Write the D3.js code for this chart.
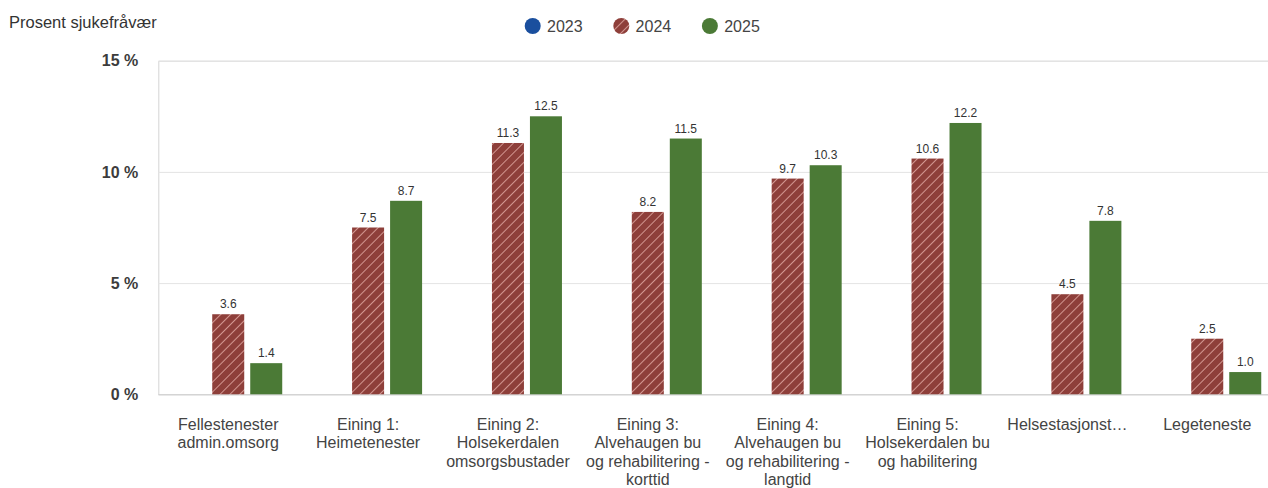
<!DOCTYPE html>
<html><head><meta charset="utf-8">
<script src="https://cdn.jsdelivr.net/npm/d3@7"></script>
<style>
html,body{margin:0;padding:0;background:#fff;}
svg{display:block;font-family:"Liberation Sans",Arial,sans-serif;}
</style></head>
<body>
<svg id="chart" width="1268" height="488"></svg>
<script>
const categories = [
  "Fellestenester\nadmin.omsorg",
  "Eining 1:\nHeimetenester",
  "Eining 2:\nHolsekerdalen\nomsorgsbustader",
  "Eining 3:\nAlvehaugen bu\nog rehabilitering -\nkorttid",
  "Eining 4:\nAlvehaugen bu\nog rehabilitering -\nlangtid",
  "Eining 5:\nHolsekerdalen bu\nog habilitering",
  "Helsestasjonst…",
  "Legeteneste"
];
const years = ["2023", "2024", "2025"];
const values2023 = [null, null, null, null, null, null, null, null];
const values2024 = [3.6, 7.5, 11.3, 8.2, 9.7, 10.6, 4.5, 2.5];
const values2025 = [1.4, 8.7, 12.5, 11.5, 10.3, 12.2, 7.8, 1.0];
const yTicks = [0, 5, 10, 15];
const yTickLabels = ["0 %", "5 %", "10 %", "15 %"];
const yTitle = "Prosent sjukefråvær";

const seriesValues = {"2023": values2023, "2024": values2024, "2025": values2025};
const colors = {"2023": "#1a4f9e", "2024": "#8e3f3a", "2025": "#4b7a36"};

const svg = d3.select("#chart");
const defs = svg.append("defs");
const pat = defs.append("pattern").attr("id", "hatch").attr("patternUnits", "userSpaceOnUse")
  .attr("width", 7).attr("height", 7).attr("patternTransform", "rotate(45)");
pat.append("rect").attr("width", 7).attr("height", 7).attr("fill", colors["2024"]);
pat.append("line").attr("x1", 0).attr("y1", 0).attr("x2", 0).attr("y2", 7)
  .attr("stroke", "#f0bcb5").attr("stroke-width", 1.4);
const fills = {"2023": colors["2023"], "2024": "url(#hatch)", "2025": colors["2025"]};

const plotLeft = 158.3, step = 139.86;
const x0 = d3.scaleBand().domain(categories).range([plotLeft, plotLeft + step * categories.length]).padding(0);
const inner = 108, off = (x0.bandwidth() - inner) / 2;
const x1 = d3.scaleBand().domain(years).range([off, off + inner]).paddingInner(6 / 38).paddingOuter(0);
const y = d3.scaleLinear().domain([0, 15]).range([394.3, 60.7]);

// gridlines
const yAxis = d3.axisLeft(y).tickValues(yTicks).tickSize(-(1268 - plotLeft)).tickFormat((d, i) => yTickLabels[i]).tickPadding(20);
const gy = svg.append("g").attr("transform", `translate(${plotLeft},0)`).call(yAxis);
gy.select(".domain").attr("stroke", "#d4d4d4");
gy.selectAll(".tick line").attr("stroke", d => d === 0 ? "#cfcfcf" : "#e4e4e4").attr("stroke-width", 1);
gy.selectAll(".tick text").attr("font-size", 16).attr("font-weight", "bold").attr("fill", "#3c3c3c")
  .attr("font-family", "Liberation Sans, Arial, sans-serif");

// bars
const groups = svg.append("g").selectAll("g").data(categories).join("g")
  .attr("transform", d => `translate(${x0(d)},0)`);
groups.each(function(cat, ci) {
  const g = d3.select(this);
  years.forEach(yr => {
    const v = seriesValues[yr][ci];
    if (v == null) return;
    g.append("rect").attr("x", x1(yr)).attr("width", x1.bandwidth())
      .attr("y", y(v)).attr("height", y(0) - y(v)).attr("fill", fills[yr]);
    g.append("text").attr("x", x1(yr) + x1.bandwidth() / 2).attr("y", y(v) - 6)
      .attr("text-anchor", "middle").attr("font-size", 12).attr("fill", "#333")
      .text(v.toFixed(1));
  });
});

// x labels
const xl = svg.append("g");
categories.forEach(cat => {
  const t = xl.append("text").attr("text-anchor", "middle").attr("font-size", 16).attr("fill", "#444")
    .attr("x", x0(cat) + x0.bandwidth() / 2).attr("y", 429.5);
  cat.split("\n").forEach((line, i) => {
    t.append("tspan").attr("x", x0(cat) + x0.bandwidth() / 2).attr("dy", i === 0 ? 0 : 18.6).text(line);
  });
});

// y title
svg.append("text").attr("x", 9).attr("y", 28).attr("font-size", 16.5).attr("fill", "#333").text(yTitle);

// legend
const leg = svg.append("g");
let lx = 524.7;
years.forEach(yr => {
  leg.append("circle").attr("cx", lx + 8).attr("cy", 26).attr("r", 8).attr("fill", fills[yr]);
  const t = leg.append("text").attr("x", lx + 22.3).attr("y", 31.5).attr("font-size", 16).attr("fill", "#444").text(yr);
  lx += 22.3 + t.node().getComputedTextLength() + 30.7;
});
</script>
</body></html>
